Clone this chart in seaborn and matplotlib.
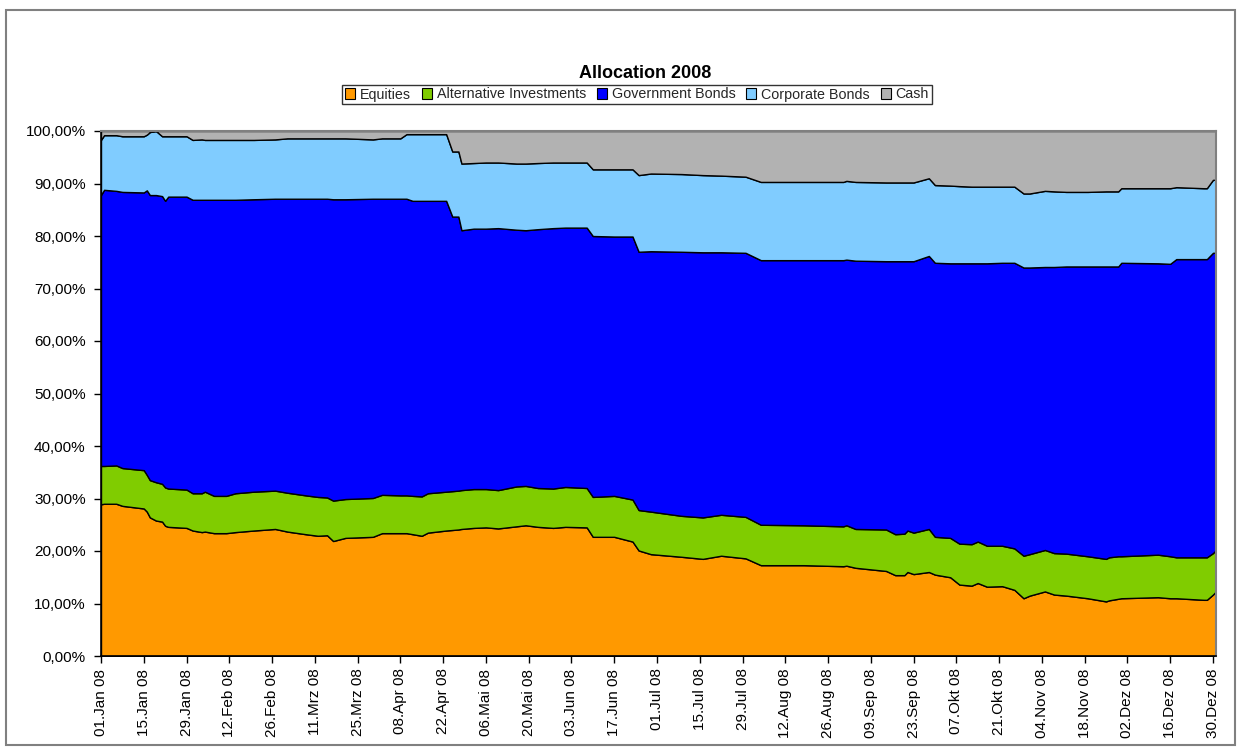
import matplotlib
matplotlib.use("Agg")
import matplotlib.pyplot as plt
from matplotlib.patches import Rectangle, Patch
import seaborn as sns
import pandas as pd

# ---------------- data (percent of portfolio) ----------------
dates = ["2008-01-01", "2008-01-02", "2008-01-06", "2008-01-08", "2008-01-15", "2008-01-16",
         "2008-01-17", "2008-01-19", "2008-01-21", "2008-01-22", "2008-01-23", "2008-01-29",
         "2008-01-31", "2008-02-03", "2008-02-04", "2008-02-07", "2008-02-11", "2008-02-14",
         "2008-02-20", "2008-02-27", "2008-03-02", "2008-03-08", "2008-03-12", "2008-03-15",
         "2008-03-17", "2008-03-21", "2008-03-30", "2008-04-02", "2008-04-08", "2008-04-10",
         "2008-04-12", "2008-04-15", "2008-04-17", "2008-04-23", "2008-04-25", "2008-04-27",
         "2008-04-28", "2008-05-02", "2008-05-06", "2008-05-10", "2008-05-16", "2008-05-19",
         "2008-05-23", "2008-05-28", "2008-06-01", "2008-06-08", "2008-06-10", "2008-06-17",
         "2008-06-23", "2008-06-25", "2008-06-29", "2008-07-09", "2008-07-16", "2008-07-22",
         "2008-07-30", "2008-08-04", "2008-08-18", "2008-08-31", "2008-09-01", "2008-09-04",
         "2008-09-14", "2008-09-17", "2008-09-20", "2008-09-21", "2008-09-23", "2008-09-28",
         "2008-09-30", "2008-10-05", "2008-10-08", "2008-10-12", "2008-10-14", "2008-10-17",
         "2008-10-22", "2008-10-26", "2008-10-29", "2008-10-31", "2008-11-05", "2008-11-08",
         "2008-11-12", "2008-11-19", "2008-11-25", "2008-11-26", "2008-11-29", "2008-11-30",
         "2008-12-12", "2008-12-16", "2008-12-18", "2008-12-27", "2008-12-28", "2008-12-30",
         "2008-12-31"]

equities = [28.9, 29.0, 29.0, 28.6, 28.1, 27.5, 26.4, 25.8, 25.6, 24.8, 24.6, 24.4,
            23.9, 23.6, 23.7, 23.4, 23.4, 23.6, 23.9, 24.2, 23.7, 23.2, 22.9, 23.0,
            21.9, 22.5, 22.7, 23.4, 23.4, 23.4, 23.2, 22.9, 23.5, 23.9, 24.0, 24.1,
            24.2, 24.4, 24.5, 24.3, 24.7, 24.9, 24.6, 24.4, 24.6, 24.5, 22.7, 22.7,
            21.8, 20.1, 19.4, 18.9, 18.5, 19.1, 18.6, 17.3, 17.3, 17.1, 17.2, 16.8,
            16.2, 15.4, 15.4, 16.0, 15.6, 16.0, 15.5, 15.0, 13.6, 13.4, 13.9, 13.2,
            13.3, 12.6, 11.0, 11.5, 12.3, 11.7, 11.5, 11.0, 10.4, 10.6, 10.9, 11.0,
            11.2, 11.0, 11.0, 10.7, 10.7, 11.7, 12.3]

alternatives = [7.3, 7.2, 7.3, 7.2, 7.3, 7.0, 7.1, 7.3, 7.2, 7.3, 7.3, 7.3,
                7.1, 7.4, 7.6, 7.1, 7.1, 7.4, 7.4, 7.3, 7.4, 7.4, 7.4, 7.2,
                7.7, 7.4, 7.4, 7.3, 7.2, 7.2, 7.3, 7.5, 7.5, 7.4, 7.4, 7.4,
                7.4, 7.4, 7.3, 7.3, 7.6, 7.5, 7.4, 7.5, 7.6, 7.5, 7.6, 7.8,
                8.0, 7.7, 8.1, 7.8, 7.9, 7.8, 7.9, 7.7, 7.6, 7.6, 7.7, 7.4,
                7.9, 7.8, 7.9, 7.9, 7.9, 8.2, 7.2, 7.5, 7.8, 7.9, 7.9, 7.8,
                7.7, 7.9, 8.1, 7.9, 7.9, 7.9, 8.0, 8.0, 8.1, 8.2, 8.1, 8.0,
                8.1, 8.0, 7.8, 8.1, 8.1, 7.9, 7.9]

government = [51.6, 52.6, 52.3, 52.6, 52.9, 54.2, 54.3, 54.7, 54.8, 54.6, 55.6, 55.8,
              55.9, 55.9, 55.6, 56.4, 56.4, 55.9, 55.7, 55.6, 56.0, 56.5, 56.8, 56.9,
              57.4, 57.1, 57.0, 56.4, 56.5, 56.5, 56.2, 56.3, 55.7, 55.4, 52.3, 52.2,
              49.5, 49.6, 49.6, 49.9, 48.9, 48.7, 49.3, 49.6, 49.4, 49.6, 49.7, 49.4,
              50.1, 49.2, 49.6, 50.3, 50.5, 50.0, 50.3, 50.4, 50.5, 50.7, 50.6, 51.1,
              51.1, 52.0, 51.9, 51.3, 51.7, 52.0, 52.2, 52.3, 53.4, 53.5, 53.0, 53.8,
              53.9, 54.4, 54.9, 54.6, 53.9, 54.5, 54.7, 55.2, 55.7, 55.4, 55.2, 55.9,
              55.5, 55.7, 56.8, 56.8, 56.8, 57.2, 56.6]

corporate = [10.5, 10.4, 10.6, 10.6, 10.7, 10.6, 12.0, 12.2, 11.4, 12.3, 11.5, 11.5,
             11.4, 11.5, 11.4, 11.4, 11.4, 11.4, 11.3, 11.3, 11.5, 11.5, 11.5, 11.5,
             11.6, 11.6, 11.3, 11.5, 11.5, 12.3, 12.7, 12.7, 12.7, 12.7, 12.4, 12.4,
             12.7, 12.5, 12.6, 12.5, 12.6, 12.7, 12.6, 12.5, 12.4, 12.4, 12.7, 12.8,
             12.8, 14.6, 14.8, 14.8, 14.7, 14.6, 14.5, 14.9, 14.9, 14.9, 15.0, 15.0,
             15.0, 15.0, 15.0, 15.0, 15.0, 14.8, 14.8, 14.8, 14.7, 14.6, 14.6, 14.6,
             14.5, 14.5, 14.1, 14.1, 14.5, 14.4, 14.2, 14.2, 14.3, 14.3, 14.3, 14.2,
             14.3, 14.4, 13.7, 13.5, 13.5, 13.9, 13.9]

cash = [1.7, 0.8, 0.8, 1.0, 1.0, 0.7, 0.2, 0.0, 1.0, 1.0, 1.0, 1.0,
        1.7, 1.6, 1.7, 1.7, 1.7, 1.7, 1.7, 1.6, 1.4, 1.4, 1.4, 1.4,
        1.4, 1.4, 1.6, 1.4, 1.4, 0.6, 0.6, 0.6, 0.6, 0.6, 3.9, 3.9,
        6.2, 6.1, 6.0, 6.0, 6.2, 6.2, 6.1, 6.0, 6.0, 6.0, 7.3, 7.3,
        7.3, 8.4, 8.1, 8.2, 8.4, 8.5, 8.7, 9.7, 9.7, 9.7, 9.5, 9.7,
        9.8, 9.8, 9.8, 9.8, 9.8, 9.0, 10.3, 10.4, 10.5, 10.6, 10.6, 10.6,
        10.6, 10.6, 11.9, 11.9, 11.4, 11.5, 11.6, 11.6, 11.5, 11.5, 11.5, 10.9,
        10.9, 10.9, 10.7, 10.9, 10.9, 9.3, 9.3]

series_names = ["Equities", "Alternative Investments", "Government Bonds",
                "Corporate Bonds", "Cash"]
series_colors = ["#FF9900", "#80CC00", "#0000FF", "#80CCFF", "#B2B2B2"]

tick_dates = ["2008-01-01", "2008-01-15", "2008-01-29", "2008-02-12", "2008-02-26",
              "2008-03-11", "2008-03-25", "2008-04-08", "2008-04-22", "2008-05-06",
              "2008-05-20", "2008-06-03", "2008-06-17", "2008-07-01", "2008-07-15",
              "2008-07-29", "2008-08-12", "2008-08-26", "2008-09-09", "2008-09-23",
              "2008-10-07", "2008-10-21", "2008-11-04", "2008-11-18", "2008-12-02",
              "2008-12-16", "2008-12-30"]
tick_labels = ["01.Jan 08", "15.Jan 08", "29.Jan 08", "12.Feb 08", "26.Feb 08",
               "11.Mrz 08", "25.Mrz 08", "08.Apr 08", "22.Apr 08", "06.Mai 08",
               "20.Mai 08", "03.Jun 08", "17.Jun 08", "01.Jul 08", "15.Jul 08",
               "29.Jul 08", "12.Aug 08", "26.Aug 08", "09.Sep 08", "23.Sep 08",
               "07.Okt 08", "21.Okt 08", "04.Nov 08", "18.Nov 08", "02.Dez 08",
               "16.Dez 08", "30.Dez 08"]
y_ticks = [0, 10, 20, 30, 40, 50, 60, 70, 80, 90, 100]
y_tick_labels = ["0,00%", "10,00%", "20,00%", "30,00%", "40,00%", "50,00%",
                 "60,00%", "70,00%", "80,00%", "90,00%", "100,00%"]

# ---------------- styling ----------------
sns.set_theme(style="white")
plt.rcParams["font.family"] = ["Liberation Sans", "DejaVu Sans"]

df = pd.DataFrame({
    "date": pd.to_datetime(dates),
    "Equities": equities,
    "Alternative Investments": alternatives,
    "Government Bonds": government,
    "Corporate Bonds": corporate,
    "Cash": cash,
})

W, H = 1241, 751
fig = plt.figure(figsize=(W / 100, H / 100), dpi=100)
fig.patch.set_facecolor("white")

# outer chart frame
fig.patches.append(Rectangle((6 / W, 1 - 745 / H), (1235 - 6) / W, (745 - 10) / H,
                             transform=fig.transFigure, fill=False,
                             edgecolor="#808080", linewidth=1.5))

left, right, top, bottom = 101, 1216, 131, 656
ax = fig.add_axes([left / W, 1 - bottom / H, (right - left) / W, (bottom - top) / H])

ax.stackplot(df["date"], [df[n] for n in series_names], colors=series_colors,
             labels=series_names, edgecolor="black", linewidth=1.0)

ax.set_xlim(pd.Timestamp("2008-01-01"), pd.Timestamp("2008-12-31"))
ax.set_ylim(0, 100)
ax.set_yticks(y_ticks)
ax.set_yticklabels(y_tick_labels)
ax.set_xticks(pd.to_datetime(tick_dates))
ax.set_xticklabels(tick_labels, rotation=90, ha="center", va="top")

ax.tick_params(axis="both", direction="out", length=5, width=1, color="black",
               labelsize=11, labelcolor="black", pad=3)
ax.tick_params(axis="x", pad=4)
ax.tick_params(axis="y", pad=6)
ax.xaxis.set_ticks_position("bottom")
ax.yaxis.set_ticks_position("left")

for s in ["left", "bottom"]:
    ax.spines[s].set_color("black")
    ax.spines[s].set_linewidth(1.2)
for s in ["top", "right"]:
    ax.spines[s].set_color("#808080")
    ax.spines[s].set_linewidth(1.5)
ax.grid(False)
ax.set_xlabel("")
ax.set_ylabel("")

fig.text(645 / W, 1 - 73 / H, "Allocation 2008", ha="center", va="center",
         fontsize=13, fontweight="bold", color="black")

handles = [Patch(facecolor=c, edgecolor="black", linewidth=0.8) for c in series_colors]
leg = fig.legend(handles, series_names, loc="center", ncol=5,
                 bbox_to_anchor=(637 / W, 1 - 94.5 / H), frameon=True, fancybox=False,
                 fontsize=10.3, handlelength=0.7, handleheight=0.7, handletextpad=0.35,
                 columnspacing=0.75, borderpad=0.2, borderaxespad=0)
leg.get_frame().set_edgecolor("black")
leg.get_frame().set_linewidth(1.0)

fig.savefig("out.png", dpi=100, facecolor="white")
